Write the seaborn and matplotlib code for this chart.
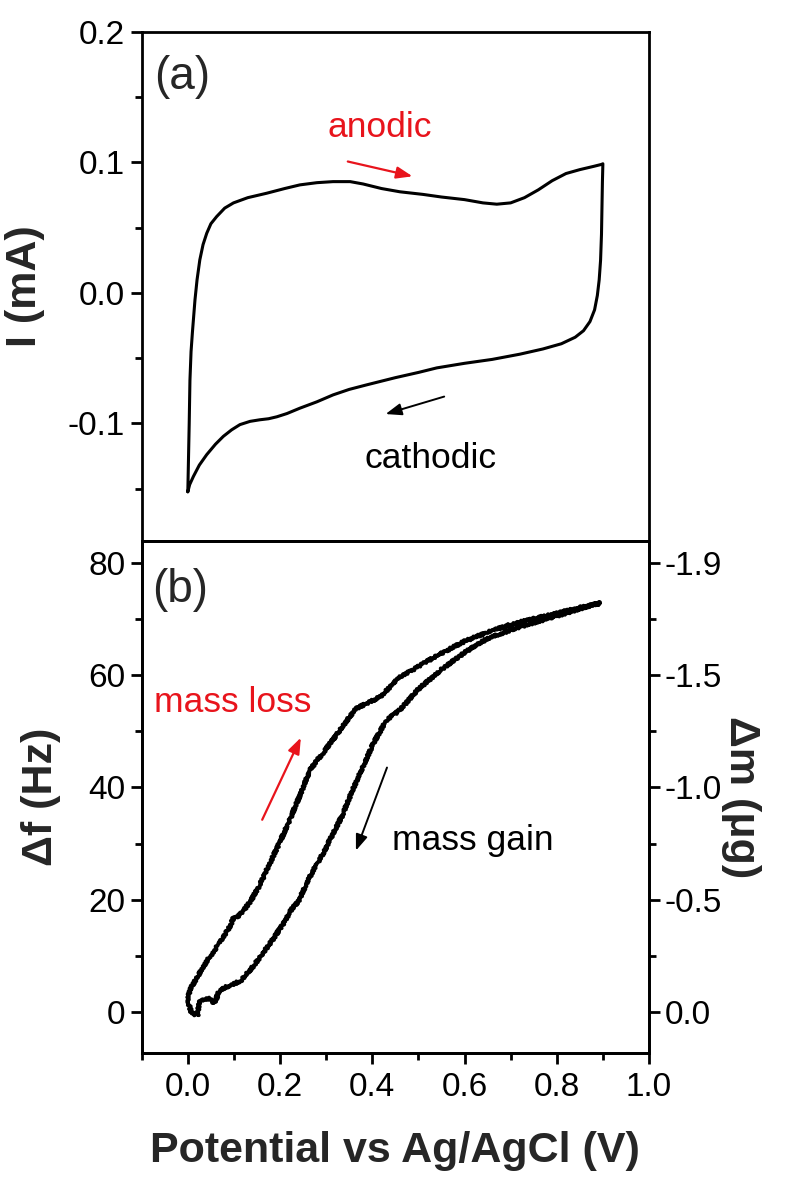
import matplotlib
matplotlib.use("Agg")
import matplotlib.pyplot as plt
import pandas as pd
import seaborn as sns
from matplotlib.ticker import MultipleLocator, FixedLocator, FixedFormatter, FormatStrFormatter

# ---------------- data ----------------
# (a) cyclic voltammogram, anodic sweep 0 -> 0.9 V then cathodic sweep back
cv_potential_anodic = [0.000, 0.001, 0.003, 0.0046, 0.007, 0.010, 0.0155, 0.020, 0.026,
                       0.033, 0.041, 0.050, 0.0625, 0.080, 0.099, 0.130, 0.171, 0.210,
                       0.243, 0.280, 0.315, 0.352, 0.380, 0.420, 0.460, 0.510, 0.550,
                       0.600, 0.640, 0.670, 0.700, 0.730, 0.760, 0.790, 0.820, 0.850,
                       0.880, 0.897, 0.900]
cv_current_anodic = [-0.1525, -0.135, -0.100, -0.067, -0.045, -0.030, -0.0054, 0.010, 0.0253,
                     0.037, 0.0457, 0.053, 0.0585, 0.065, 0.069, 0.073, 0.0764, 0.080,
                     0.0828, 0.0845, 0.0853, 0.0853, 0.0835, 0.080, 0.0775, 0.0755, 0.0735,
                     0.0715, 0.069, 0.068, 0.069, 0.073, 0.079, 0.086, 0.0915, 0.0945,
                     0.097, 0.0985, 0.099]
cv_potential_cathodic = [0.900, 0.899, 0.898, 0.897, 0.895, 0.892, 0.888, 0.882, 0.872,
                         0.858, 0.840, 0.810, 0.770, 0.720, 0.660, 0.600, 0.540, 0.500,
                         0.450, 0.388, 0.350, 0.315, 0.280, 0.243, 0.215, 0.193, 0.175,
                         0.156, 0.135, 0.113, 0.095, 0.077, 0.060, 0.041, 0.025, 0.012,
                         0.004, 0.000]
cv_current_cathodic = [0.099, 0.085, 0.065, 0.045, 0.025, 0.010, -0.002, -0.013, -0.022,
                       -0.029, -0.034, -0.039, -0.043, -0.047, -0.051, -0.054, -0.0575, -0.061,
                       -0.065, -0.0705, -0.074, -0.0782, -0.0835, -0.0884, -0.0925, -0.095, -0.0965,
                       -0.0973, -0.0985, -0.1010, -0.105, -0.110, -0.116, -0.124, -0.132, -0.1408,
                       -0.147, -0.1525]

# (b) frequency shift during the same scan
qcm_potential_anodic = [-0.001, 0.005, 0.015, 0.025, 0.040, 0.058, 0.075, 0.091, 0.100,
                        0.108, 0.120, 0.137, 0.155, 0.171, 0.195, 0.221, 0.245, 0.265,
                        0.280, 0.293, 0.310, 0.330, 0.350, 0.366, 0.390, 0.4165, 0.440,
                        0.460, 0.490, 0.520, 0.560, 0.600, 0.650, 0.700, 0.750, 0.800,
                        0.850, 0.894]
qcm_shift_anodic = [2.1, 4.2, 5.5, 6.9, 9.0, 11.0, 13.2, 15.2, 17.0,
                    17.0, 18.0, 19.9, 22.5, 25.3, 29.5, 34.2, 39.0, 43.1,
                    44.8, 46.1, 48.0, 50.2, 52.5, 54.1, 55.0, 56.1, 58.0,
                    59.7, 61.0, 62.5, 64.3, 66.0, 67.6, 69.0, 70.0, 71.0,
                    72.0, 72.8]
qcm_potential_cathodic = [0.894, 0.850, 0.800, 0.750, 0.700, 0.650, 0.600, 0.550, 0.500,
                          0.460, 0.431, 0.402, 0.380, 0.365, 0.351, 0.335, 0.315, 0.295,
                          0.272, 0.255, 0.241, 0.224, 0.205, 0.183, 0.160, 0.141, 0.116,
                          0.095, 0.080, 0.067, 0.058, 0.045, 0.035, 0.025, 0.021, 0.0085,
                          -0.001]
qcm_shift_cathodic = [72.8, 71.8, 70.5, 69.3, 68.0, 66.5, 64.0, 61.0, 57.5,
                      53.8, 52.0, 47.8, 43.7, 41.0, 38.3, 35.0, 31.8, 28.5,
                      25.3, 22.5, 19.9, 18.2, 15.5, 12.8, 10.2, 8.1, 5.7,
                      4.8, 4.4, 3.6, 1.6, 2.5, 2.1, 2.1, -0.5, -0.2,
                      2.1]

# right-hand mass axis labels, placed at the frequency major ticks
freq_ticks = [0, 20, 40, 60, 80]
mass_tick_labels = ["0.0", "-0.5", "-1.0", "-1.5", "-1.9"]
x_ticks = [0.0, 0.2, 0.4, 0.6, 0.8, 1.0]
cv_ticks = [-0.1, 0.0, 0.1, 0.2]

# ---------------- style ----------------
sns.set_theme(style="ticks")
plt.rcParams["font.family"] = ["Liberation Sans", "DejaVu Sans"]
plt.rcParams.update({
    "axes.linewidth": 2.0,
    "xtick.major.width": 2.0, "ytick.major.width": 2.0,
    "xtick.minor.width": 2.0, "ytick.minor.width": 2.0,
    "xtick.major.size": 8, "ytick.major.size": 8,
    "xtick.minor.size": 5, "ytick.minor.size": 5,
    "xtick.labelsize": 24, "ytick.labelsize": 24,
    "xtick.color": "black", "ytick.color": "black",
    "axes.edgecolor": "black",
})

RED = "#e8141c"
LW = 2.2
NOTE = 25.5
PANEL = 33
ARROW = "-|>,head_length=0.8,head_width=0.3"

fig = plt.figure(figsize=(7.93, 11.86), dpi=100)
ax1 = fig.add_axes([0.1787, 0.5441, 0.6397, 0.4289])
ax2 = fig.add_axes([0.1787, 0.1124, 0.6397, 0.4317], sharex=ax1)

# ---- panel (a): CV ----
cv = pd.DataFrame({
    "E": cv_potential_anodic + cv_potential_cathodic,
    "I": cv_current_anodic + cv_current_cathodic,
})
sns.lineplot(data=cv, x="E", y="I", sort=False, estimator=None, color="black",
             lw=LW, ax=ax1)
ax1.set_ylim(-0.19, 0.2)
ax1.set_yticks(cv_ticks)
ax1.yaxis.set_major_formatter(FormatStrFormatter("%.1f"))
ax1.yaxis.set_minor_locator(MultipleLocator(0.05))
ax1.tick_params(axis="x", which="both", bottom=False, labelbottom=False)
ax1.tick_params(axis="y", which="both", direction="out", pad=4)
ax1.set_xlabel("")
ax1.set_ylabel("I (mA)", fontsize=31, fontweight="bold")
ax1.yaxis.set_label_coords(-0.19, 0.5)

ax1.text(0.079, 0.9115, "(a)", transform=ax1.transAxes, fontsize=PANEL,
         ha="center", va="center")
ax1.text(0.417, 0.1195, "anodic", color=RED, fontsize=NOTE, ha="center", va="baseline")
ax1.annotate("", xy=(0.493, 0.0889), xytext=(0.341, 0.1012),
             arrowprops=dict(arrowstyle=ARROW, color=RED, lw=1.6))
ax1.text(0.527, -0.134, "cathodic", color="black", fontsize=NOTE, ha="center",
         va="baseline")
ax1.annotate("", xy=(0.4231, -0.0935), xytext=(0.5617, -0.0789),
             arrowprops=dict(arrowstyle=ARROW, color="black", lw=1.4))

# ---- panel (b): QCM ----
qcm = pd.DataFrame({
    "E": qcm_potential_anodic + qcm_potential_cathodic,
    "df": qcm_shift_anodic + qcm_shift_cathodic,
})
sns.lineplot(data=qcm, x="E", y="df", sort=False, estimator=None, color="black",
             lw=LW + 0.6, ax=ax2)
# the microbalance trace is a noisy signal: draw it with a rough stroke
for line in ax2.get_lines():
    line.set_sketch_params(scale=1.3, length=3.0, randomness=2.0)
ax2.set_xlim(-0.1, 1.0)
ax2.set_ylim(-7.2, 83.9)
ax2.set_xticks(x_ticks)
ax2.xaxis.set_major_formatter(FormatStrFormatter("%.1f"))
ax2.xaxis.set_minor_locator(MultipleLocator(0.1))
ax2.set_yticks(freq_ticks)
ax2.yaxis.set_minor_locator(MultipleLocator(10))
ax2.tick_params(axis="both", which="both", direction="out")
ax2.tick_params(axis="x", which="major", pad=6)
ax2.set_xlabel("Potential vs Ag/AgCl (V)", fontsize=31, fontweight="bold", labelpad=20)
ax2.set_ylabel("\u0394f (Hz)", fontsize=31, fontweight="bold")
ax2.yaxis.set_label_coords(-0.16, 0.5)

ax2.text(0.0755, 0.904, "(b)", transform=ax2.transAxes, fontsize=PANEL,
         ha="center", va="center")
ax2.text(0.098, 53.4, "mass loss", color=RED, fontsize=NOTE, ha="center", va="baseline")
ax2.annotate("", xy=(0.2476, 49.3), xytext=(0.1587, 33.8),
             arrowprops=dict(arrowstyle=ARROW, color=RED, lw=1.6))
ax2.text(0.443, 28.8, "mass gain", color="black", fontsize=NOTE, ha="left",
         va="baseline")
ax2.annotate("", xy=(0.3624, 28.3), xytext=(0.434, 44.0),
             arrowprops=dict(arrowstyle=ARROW, color="black", lw=1.4))

# right-hand mass axis
ax3 = ax2.twinx()
ax3.set_ylim(ax2.get_ylim())
ax3.yaxis.set_major_locator(FixedLocator(freq_ticks))
ax3.yaxis.set_major_formatter(FixedFormatter(mass_tick_labels))
ax3.yaxis.set_minor_locator(MultipleLocator(10))
ax3.tick_params(axis="y", which="both", direction="out")
ax3.set_ylabel("\u0394m (\u03bcg)", fontsize=31, fontweight="bold", rotation=270,
               labelpad=28)

fig.savefig("out.png", dpi=100)
